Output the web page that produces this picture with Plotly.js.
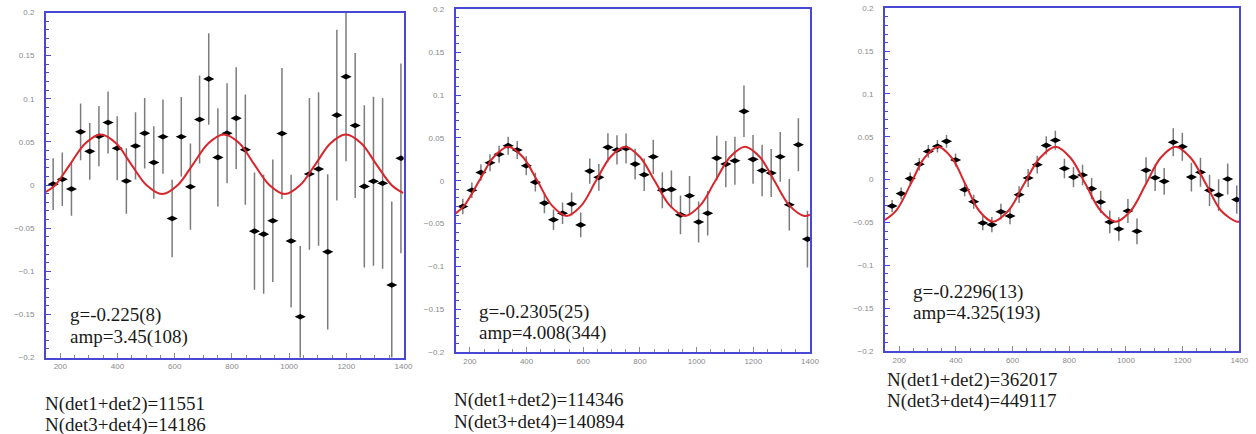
<!DOCTYPE html>
<html>
<head>
<meta charset="utf-8">
<script src="https://cdn.plot.ly/plotly-3.0.1.min.js"></script>
<style>
  html, body { margin: 0; padding: 0; background: #ffffff; }
  #chart { width: 1256px; height: 434px; }
</style>
</head>
<body>
<div id="chart"></div>
<script>
// ---------------- DATA ----------------
const binX = [175, 207, 239, 271, 303, 335, 367, 399, 431, 463, 495, 527, 559, 591, 623, 655, 687, 719, 751, 783,
              815, 847, 879, 911, 943, 975, 1007, 1039, 1071, 1103, 1135, 1167, 1199, 1231, 1263, 1295, 1327, 1359, 1391];

// Panel 1 (N = 11551 / 14186)
const asym1 = [0.001, 0.0066, -0.0047, 0.0616, 0.039, 0.0566, 0.0725, 0.0426, 0.0047, 0.0453,
               0.060, 0.026, 0.056, -0.0388, 0.056, -0.002, 0.076, 0.123, 0.032, 0.060,
               0.0775, 0.041, -0.0535, -0.057, -0.0415, 0.0597, -0.065, -0.1527, 0.0128, 0.0186,
               -0.0775, 0.081, 0.1256, 0.069, -0.0016, 0.0043, 0.002, -0.116, 0.031];
const err1  = [0.030, 0.031, 0.031, 0.033, 0.033, 0.035, 0.036, 0.037, 0.038, 0.039,
               0.041, 0.042, 0.043, 0.045, 0.046, 0.050, 0.051, 0.053, 0.057, 0.058,
               0.059, 0.064, 0.068, 0.069, 0.071, 0.076, 0.077, 0.082, 0.088, 0.089,
               0.090, 0.099, 0.098, 0.084, 0.094, 0.098, 0.099, 0.097, 0.110];
const fitX1 = [150, 182, 234, 288, 341, 395, 448, 502, 556, 610, 664, 718, 772, 826, 878, 932, 985,
               1038, 1092, 1145, 1198, 1252, 1305, 1359, 1400];
const fitY1 = [-0.008, -0.0003, 0.024, 0.0484, 0.0585, 0.0484, 0.024, -0.0003, -0.0105, -0.0003, 0.024,
               0.0484, 0.0585, 0.0484, 0.024, -0.0003, -0.0105, -0.0003, 0.024, 0.0484, 0.0585, 0.0484,
               0.024, -0.0003, -0.0095];

// Panel 2 (N = 114346 / 140894)
const asym2 = [-0.030, -0.011, 0.0097, 0.021, 0.031, 0.041, 0.036, 0.0175, -0.0016, -0.026,
               -0.0455, -0.0378, -0.027, -0.0514, 0.0113, 0.004, 0.039, 0.036, 0.0378, 0.0195,
               0.007, 0.028, -0.011, -0.010, -0.0397, -0.0175, -0.048, -0.0378, 0.0265, 0.0195,
               0.0233, 0.081, 0.025, 0.012, 0.009, 0.028, -0.028, 0.042, -0.068];
const err2  = [0.009, 0.009, 0.0097, 0.010, 0.010, 0.0105, 0.0105, 0.011, 0.011, 0.0117,
               0.012, 0.0125, 0.0135, 0.0143, 0.0146, 0.0155, 0.0165, 0.017, 0.0175, 0.018,
               0.019, 0.020, 0.021, 0.022, 0.0225, 0.023, 0.024, 0.026, 0.026, 0.027,
               0.028, 0.030, 0.0285, 0.030, 0.028, 0.029, 0.030, 0.031, 0.033];
const fitX2 = [150, 180, 232, 284, 336, 387, 439, 490, 542, 593, 644, 696, 747, 800, 853, 906, 959,
               1012, 1065, 1118, 1171, 1223, 1275, 1328, 1380, 1400];
const fitY2 = [-0.038, -0.029, -0.0006, 0.0278, 0.0398, 0.0278, -0.0006, -0.029, -0.041, -0.029, -0.0006,
               0.0278, 0.0398, 0.0278, -0.0006, -0.029, -0.041, -0.029, -0.0006, 0.0278, 0.0398, 0.0278,
               -0.0006, -0.029, -0.041, -0.0395];

// Panel 3 (N = 362017 / 449117)
const asym3 = [-0.0307, -0.0163, 0.0012, 0.018, 0.033, 0.039, 0.0447, 0.023, -0.0117, -0.0257,
               -0.0506, -0.0525, -0.0374, -0.0424, -0.0175, 0.0019, 0.0175, 0.040, 0.046, 0.013,
               0.003, 0.0054, -0.0105, -0.026, -0.0494, -0.0576, -0.0366, -0.0603, 0.011, 0.0023,
               -0.002, 0.0436, 0.0385, 0.003, 0.0086, -0.0125, -0.018, 0.0008, -0.0233];
const err3  = [0.007, 0.007, 0.007, 0.0072, 0.0074, 0.0074, 0.0074, 0.0076, 0.0078, 0.0082,
               0.0084, 0.0088, 0.0092, 0.0096, 0.0098, 0.0104, 0.0104, 0.0106, 0.011, 0.0114,
               0.0118, 0.012, 0.0125, 0.013, 0.0133, 0.0138, 0.014, 0.015, 0.015, 0.0155,
               0.0155, 0.0163, 0.0163, 0.0167, 0.017, 0.0183, 0.0186, 0.0181, 0.0165];
const fitX3 = [150, 190, 240, 289, 338, 386, 434, 482, 530, 585, 640, 696, 752, 805, 858, 911, 965,
               1017, 1070, 1122, 1175, 1229, 1283, 1336, 1390, 1400];
const fitY3 = [-0.047, -0.036, -0.0055, 0.0253, 0.0385, 0.0253, -0.0055, -0.0363, -0.049, -0.0363, -0.0055,
               0.0253, 0.0385, 0.0253, -0.0055, -0.0363, -0.049, -0.0363, -0.0055, 0.0253, 0.0385, 0.0253,
               -0.0055, -0.0363, -0.049, -0.0488];

const fitLabels = [
  ["g=-0.225(8)", "amp=3.45(108)"],
  ["g=-0.2305(25)", "amp=4.008(344)"],
  ["g=-0.2296(13)", "amp=4.325(193)"]
];
const countLabels = [
  ["N(det1+det2)=11551", "N(det3+det4)=14186"],
  ["N(det1+det2)=114346", "N(det3+det4)=140894"],
  ["N(det1+det2)=362017", "N(det3+det4)=449117"]
];

// ---------------- LAYOUT (pixel geometry of the three frames) ----------------
const W = 1256, H = 434;
const frames = [
  { x0: 46,    x1: 403.5,  y0: 12.5, y1: 357.5 },
  { x0: 455.7, x1: 810,    y0: 9.3,  y1: 352.3 },
  { x0: 885,   x1: 1239.3, y0: 8.3,  y1: 351 }
];
// text anchor positions in pixels: [left, centerY line1, centerY line2]
const fitTextPos   = [[68, 314.5, 336.7], [476.7, 311.7, 333.3], [910.7, 292.3, 313.3]];
const countTextPos = [[43, 404, 424.5],   [451.7, 400, 421.5],   [885, 380, 401]];

const blue = '#4848d4';
const tickGray = '#8a8a8a';
const series = [[asym1, err1, fitX1, fitY1], [asym2, err2, fitX2, fitY2], [asym3, err3, fitX3, fitY3]];

const data = [];
const layout = {
  width: W, height: H,
  margin: { l: 0, r: 0, t: 0, b: 0, pad: 0 },
  paper_bgcolor: '#ffffff', plot_bgcolor: '#ffffff',
  showlegend: false,
  annotations: []
};

series.forEach((s, i) => {
  const n = i + 1;
  const sfx = (n === 1 ? '' : String(n));
  const xa = 'x' + sfx, ya = 'y' + sfx;
  data.push({
    type: 'scatter', mode: 'markers', x: binX, y: s[0], xaxis: xa, yaxis: ya,
    marker: { symbol: 'diamond-wide', size: 8, color: '#000000' },
    error_y: { type: 'data', array: s[1], visible: true, color: '#7c7c7c', thickness: 1.5, width: 0 },
    error_x: { type: 'constant', value: 10, visible: true, color: '#222222', thickness: 1.5, width: 0 },
    hoverinfo: 'skip'
  });
  data.push({
    type: 'scatter', mode: 'lines', x: s[2], y: s[3], xaxis: xa, yaxis: ya,
    line: { color: '#d8262c', width: 2, shape: 'spline', smoothing: 1 },
    hoverinfo: 'skip'
  });
  const f = frames[i];
  const common = {
    showline: true, linecolor: blue, linewidth: 2, mirror: true,
    showgrid: false, zeroline: false, ticks: 'inside', tickwidth: 1,
    tickfont: { family: 'Liberation Sans, Arial, sans-serif', size: 8, color: tickGray },
    fixedrange: true
  };
  layout['xaxis' + sfx] = Object.assign({}, common, {
    domain: [f.x0 / W, f.x1 / W], anchor: ya,
    range: [150, 1400], tick0: 0, dtick: 200, ticklen: 5, tickcolor: tickGray,
    minor: { ticks: 'inside', dtick: 50, ticklen: 3, tickcolor: tickGray, tickwidth: 1 }
  });
  layout['yaxis' + sfx] = Object.assign({}, common, {
    domain: [1 - f.y1 / H, 1 - f.y0 / H], anchor: xa,
    range: [-0.2, 0.2], tick0: 0, dtick: 0.05, ticklen: 5, tickcolor: blue, ticklabelstandoff: 8,
    minor: { ticks: 'inside', dtick: 0.01, ticklen: 3, tickcolor: blue, tickwidth: 1 }
  });
  const serif = { family: 'Liberation Serif, Times New Roman, serif', size: 19, color: '#1a1a1a' };
  [[fitLabels[i], fitTextPos[i]], [countLabels[i], countTextPos[i]]].forEach(([labels, pos]) => {
    labels.forEach((t, k) => {
      layout.annotations.push({
        xref: 'paper', yref: 'paper', x: pos[0] / W, y: 1 - pos[k + 1] / H,
        xanchor: 'left', yanchor: 'middle', showarrow: false, text: t, font: serif
      });
    });
  });
});

Plotly.newPlot('chart', data, layout, { staticPlot: true, displayModeBar: false });
</script>
</body>
</html>
